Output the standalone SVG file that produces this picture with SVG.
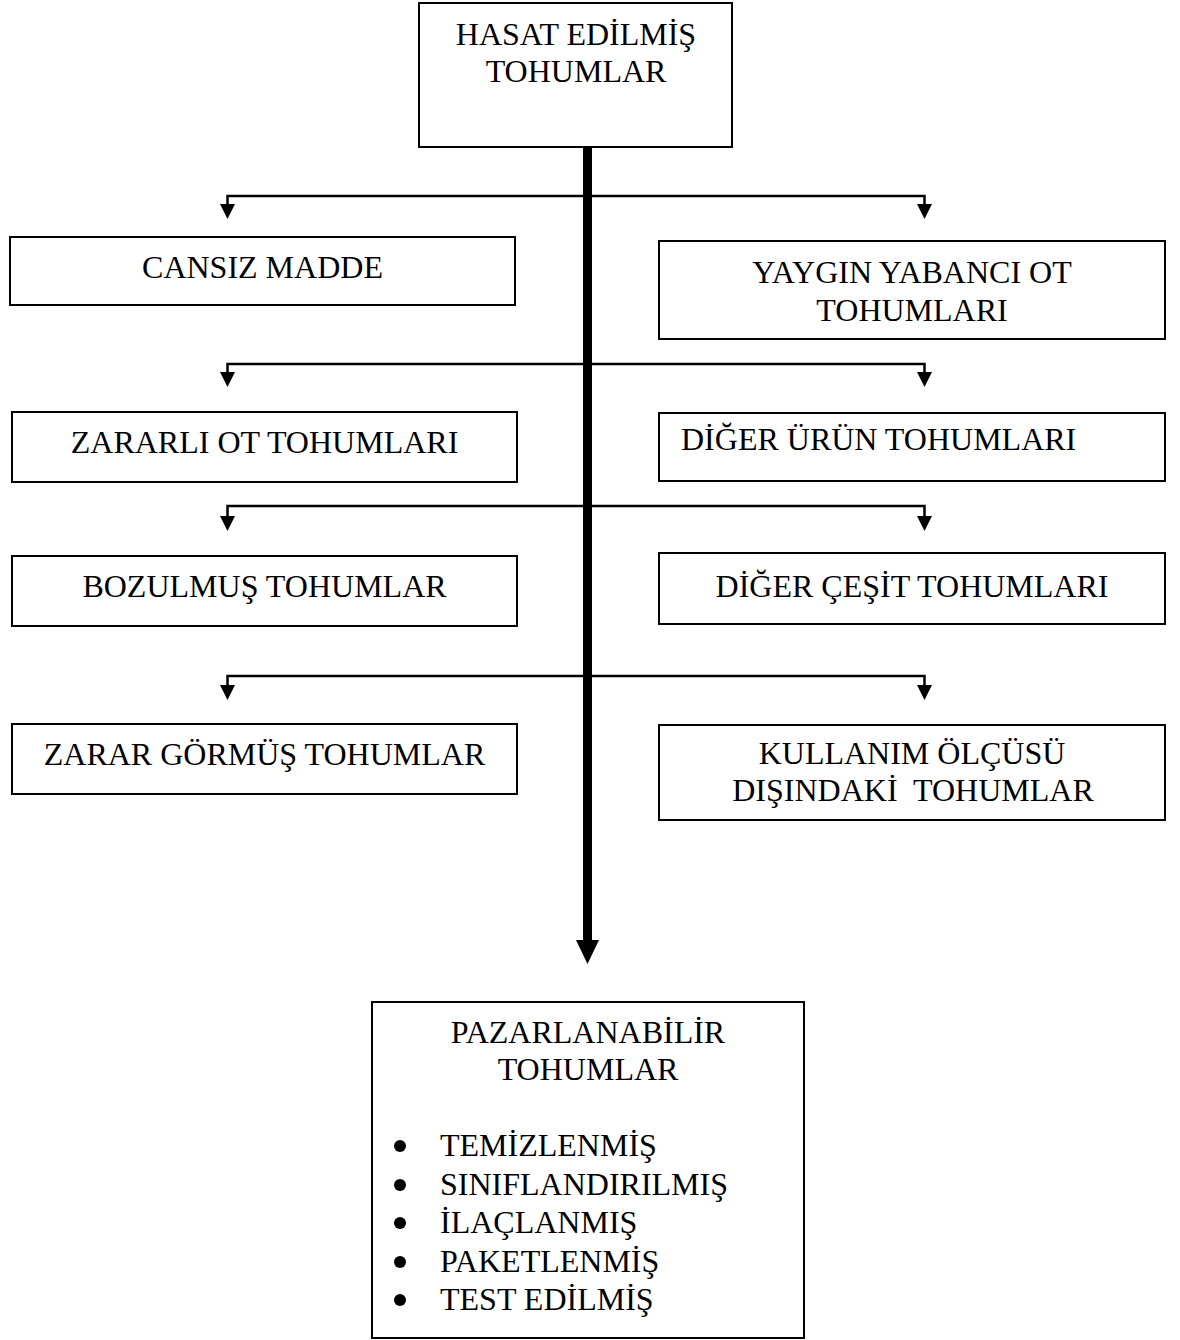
<svg xmlns="http://www.w3.org/2000/svg" width="1180" height="1340" viewBox="0 0 1180 1340">
<style>
.box{fill:#fff;stroke:#000;stroke-width:2}
.t{font-family:"Liberation Serif","Times New Roman",serif;font-size:32px;fill:#000}
.c{text-anchor:middle}
.br{fill:none;stroke:#000;stroke-width:2.5}
.ah{fill:#000}
</style>
<rect width="1180" height="1340" fill="#fff"/>
<g id="connectors">
<line x1="587.5" y1="147" x2="587.5" y2="942" stroke="#000" stroke-width="9"/>
<polygon class="ah" points="576,940 599,940 587.5,964"/>
<path class="br" d="M227.5,206 V196 H924.5 V206"/>
<polygon class="ah" points="220,204 235,204 227.5,219"/>
<polygon class="ah" points="917,204 932,204 924.5,219"/>
<path class="br" d="M227.5,373 V364 H924.5 V373"/>
<polygon class="ah" points="220,372 235,372 227.5,387"/>
<polygon class="ah" points="917,372 932,372 924.5,387"/>
<path class="br" d="M227.5,517 V506 H924.5 V517"/>
<polygon class="ah" points="220,516 235,516 227.5,531"/>
<polygon class="ah" points="917,516 932,516 924.5,531"/>
<path class="br" d="M227.5,686 V676 H924.5 V686"/>
<polygon class="ah" points="220,685 235,685 227.5,700"/>
<polygon class="ah" points="917,685 932,685 924.5,700"/>
</g>
<g id="hasat">
<rect class="box" x="419" y="3" width="313" height="144"/>
<text class="t c" x="576" y="45">HASAT EDİLMİŞ</text>
<text class="t c" x="576" y="82">TOHUMLAR</text>
</g>
<g id="cansiz">
<rect class="box" x="10" y="237" width="505" height="68"/>
<text class="t c" x="262.5" y="278">CANSIZ MADDE</text>
</g>
<g id="yaygin">
<rect class="box" x="659" y="241" width="506" height="98"/>
<text class="t c" x="912" y="283">YAYGIN YABANCI OT</text>
<text class="t c" x="912" y="321">TOHUMLARI</text>
</g>
<g id="zararli">
<rect class="box" x="12" y="412" width="505" height="70"/>
<text class="t c" x="264.5" y="453">ZARARLI OT TOHUMLARI</text>
</g>
<g id="diger-urun">
<rect class="box" x="659" y="413" width="506" height="68"/>
<text class="t" x="681" y="450">DİĞER ÜRÜN TOHUMLARI</text>
</g>
<g id="bozulmus">
<rect class="box" x="12" y="556" width="505" height="70"/>
<text class="t c" x="264.5" y="597">BOZULMUŞ TOHUMLAR</text>
</g>
<g id="diger-cesit">
<rect class="box" x="659" y="553" width="506" height="71"/>
<text class="t c" x="912" y="597">DİĞER ÇEŞİT TOHUMLARI</text>
</g>
<g id="zarar-gormus">
<rect class="box" x="12" y="724" width="505" height="70"/>
<text class="t c" x="264.5" y="765">ZARAR GÖRMÜŞ TOHUMLAR</text>
</g>
<g id="kullanim">
<rect class="box" x="659" y="725" width="506" height="95"/>
<text class="t c" x="912" y="764">KULLANIM ÖLÇÜSÜ</text>
<text class="t c" x="913" y="801" style="white-space:pre">DIŞINDAKİ  TOHUMLAR</text>
</g>
<g id="pazarlanabilir">
<rect class="box" x="372" y="1002" width="432" height="336"/>
<text class="t c" x="588" y="1043">PAZARLANABİLİR</text>
<text class="t c" x="588" y="1080">TOHUMLAR</text>
<circle cx="400" cy="1146" r="6"/>
<circle cx="400" cy="1185" r="6"/>
<circle cx="400" cy="1223" r="6"/>
<circle cx="400" cy="1262" r="6"/>
<circle cx="400" cy="1300" r="6"/>
<text class="t" x="440" y="1156">TEMİZLENMİŞ</text>
<text class="t" x="440" y="1195">SINIFLANDIRILMIŞ</text>
<text class="t" x="440" y="1233">İLAÇLANMIŞ</text>
<text class="t" x="440" y="1272">PAKETLENMİŞ</text>
<text class="t" x="440" y="1310">TEST EDİLMİŞ</text>
</g>
</svg>
